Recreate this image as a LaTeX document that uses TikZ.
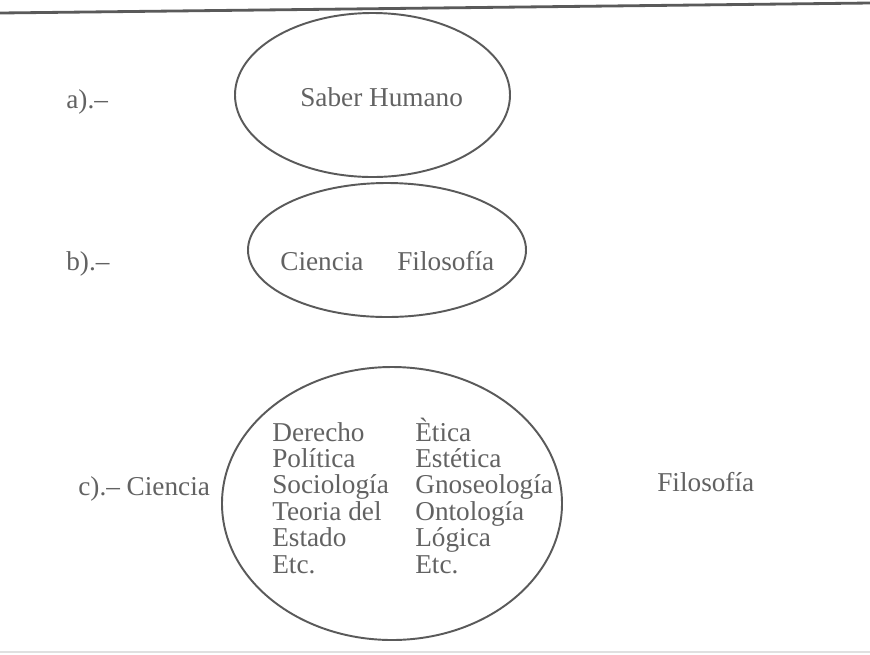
\documentclass[tikz,border=0pt]{standalone}
\usepackage{fontspec}
\setmainfont{Liberation Serif}
\usepackage{tikz}
\usetikzlibrary{calc}

\definecolor{inkgray}{HTML}{5A5A5A}
\definecolor{textgray}{HTML}{626262}

\begin{document}
\begin{tikzpicture}[x=0.02cm, y=-0.02cm,
    label/.style={anchor=base west, inner sep=0pt, text=textgray, font=\fontsize{15.5}{15.5}\selectfont},
    outline/.style={draw=inkgray, line width=1.1pt}]
    \useasboundingbox (0,0) rectangle (870,654);
    \fill[white] (0,0) rectangle (870,654);
    % rules at top and bottom of the page
    \draw[inkgray, line width=1.6pt] (0,13) -- (870,3);
    \draw[black!12, line width=1pt] (0,652) -- (870,652);
    % a)
    \node[label] (la) at (66,108) {a).--};
    \draw[outline] (372.5,95) ellipse [x radius=137.5, y radius=82];
    \node[label] (saber) at (300,106) {Saber Humano};
    % b)
    \node[label] (lb) at (66,270) {b).--};
    \draw[outline] (387,250) ellipse [x radius=139, y radius=67];
    \node[label] (cienb) at (280,270) {Ciencia};
    \node[label] (filob) at (397,270) {Filosofía};
    % c)
    \node[label] (lc) at (78,495) {c).-- Ciencia};
    \draw[outline] (392,503.5) ellipse [x radius=170, y radius=136.5];
    \foreach \w [count=\i] in {Derecho, Política, Sociología, Teoria del, Estado, Etc.}
        \node[label] (cien\i) at (272,{441+26.4*(\i-1)}) {\w};
    \foreach \w [count=\i] in {Ètica, Estética, Gnoseología, Ontología, Lógica, Etc.}
        \node[label] (filo\i) at (415,{441+26.4*(\i-1)}) {\w};
    \node[label] (filoc) at (657,491) {Filosofía};
\end{tikzpicture}
\end{document}
